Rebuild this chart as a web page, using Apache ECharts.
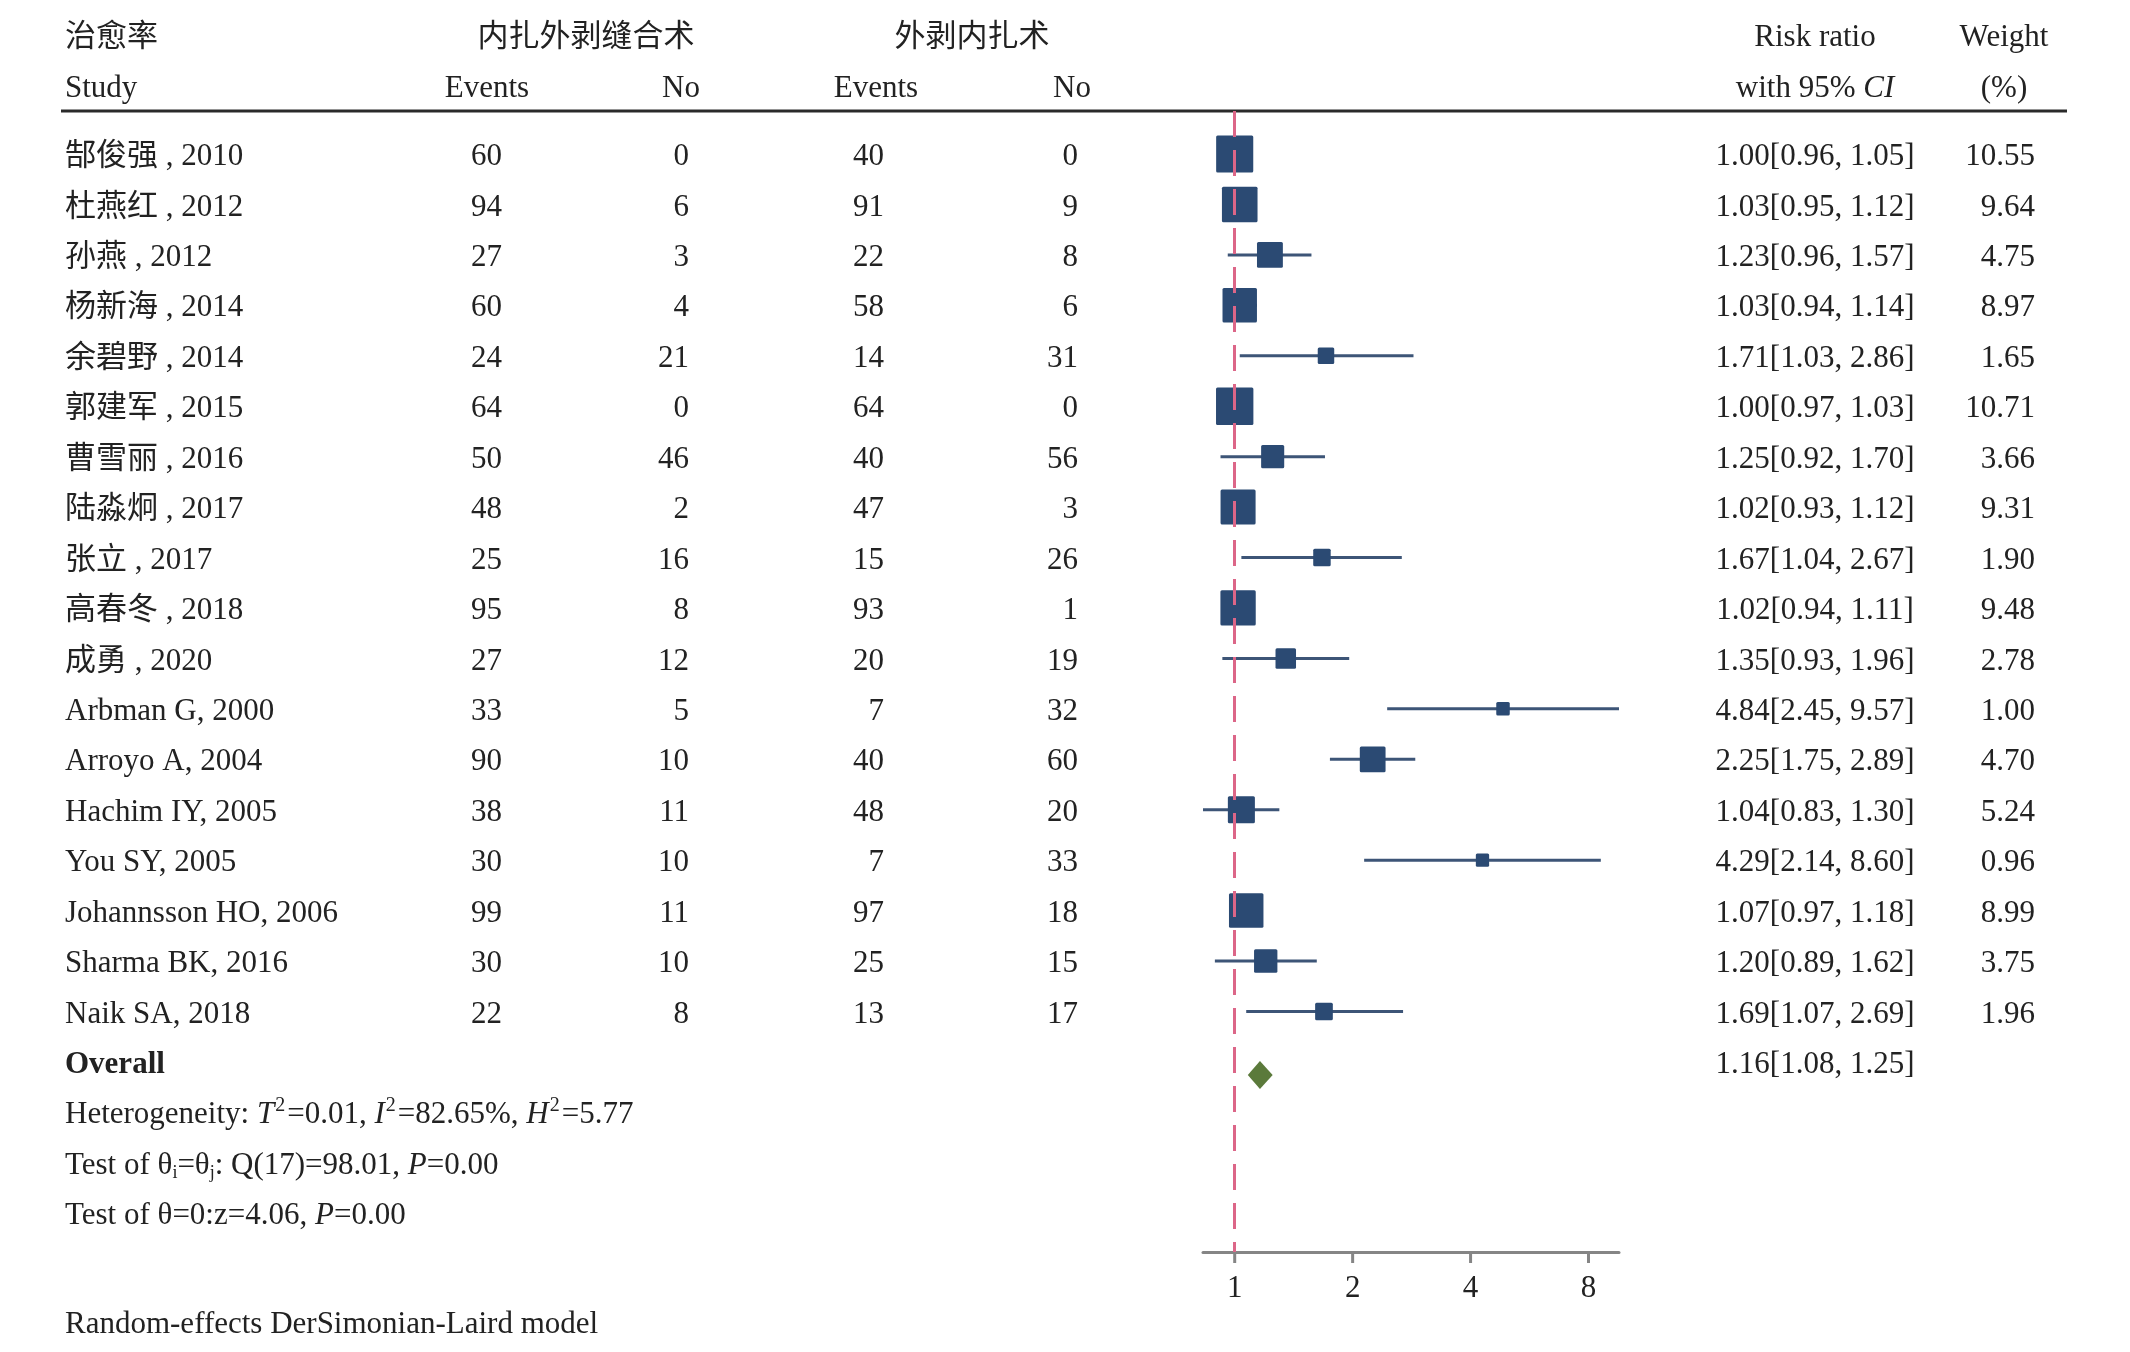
<!DOCTYPE html>
<html>
<head>
<meta charset="utf-8">
<script src="https://cdn.jsdelivr.net/npm/echarts@6/dist/echarts.min.js"></script>
<style>
html,body{margin:0;padding:0;background:#ffffff;}
#c{width:2130px;height:1352px;}
</style>
</head>
<body>
<div id="c"></div>
<script>
// ---------------- data ----------------
const studies = ['郜俊强 , 2010','杜燕红 , 2012','孙燕 , 2012','杨新海 , 2014','余碧野 , 2014','郭建军 , 2015','曹雪丽 , 2016','陆淼炯 , 2017','张立 , 2017','高春冬 , 2018','成勇 , 2020','Arbman G, 2000','Arroyo A, 2004','Hachim IY, 2005','You SY, 2005','Johannsson HO, 2006','Sharma BK, 2016','Naik SA, 2018'];
const events1 = [60,94,27,60,24,64,50,48,25,95,27,33,90,38,30,99,30,22];
const no1     = [0,6,3,4,21,0,46,2,16,8,12,5,10,11,10,11,10,8];
const events2 = [40,91,22,58,14,64,40,47,15,93,20,7,40,48,7,97,25,13];
const no2     = [0,9,8,6,31,0,56,3,26,1,19,32,60,20,33,18,15,17];
const riskRatio = [1.00,1.03,1.23,1.03,1.71,1.00,1.25,1.02,1.67,1.02,1.35,4.84,2.25,1.04,4.29,1.07,1.20,1.69];
const ciLow     = [0.96,0.95,0.96,0.94,1.03,0.97,0.92,0.93,1.04,0.94,0.93,2.45,1.75,0.83,2.14,0.97,0.89,1.07];
const ciHigh    = [1.05,1.12,1.57,1.14,2.86,1.03,1.70,1.12,2.67,1.11,1.96,9.57,2.89,1.30,8.60,1.18,1.62,2.69];
const weights   = [10.55,9.64,4.75,8.97,1.65,10.71,3.66,9.31,1.90,9.48,2.78,1.00,4.70,5.24,0.96,8.99,3.75,1.96];
const overallRR = 1.16, overallLow = 1.08, overallHigh = 1.25;
const xTicks = [1, 2, 4, 8];
const xMin = 0.83, xMax = 9.57;

// ---------------- layout ----------------
const FONT = "'Liberation Serif','Times New Roman','Noto Sans CJK SC',serif";
const FS = 31;
const INK = '#222222';
const TOP = 111, AXIS_Y = 1252;
const PLOT_LEFT = 1203, PLOT_W = 416;
const ROW0_TEXT = 157, ROW0_MARK = 154, STEP = 50.44;
const COL = {name:65, ev1:502, no1:689, ev2:884, no2:1078, ci:1815, w:2035};
const fmt = v => v.toFixed(2);

const chart = echarts.init(document.getElementById('c'), null, {renderer:'canvas'});

function txt(x, y, text, align, extra) {
  return {
    type:'text', x:x, y:y,
    style: Object.assign({text:text, fontSize:FS, fontFamily:FONT, fill:INK, align:align||'left', verticalAlign:'middle'}, extra||{})
  };
}

const rich = {
  n:{fontSize:FS, fontFamily:FONT, fill:INK, lineHeight:36},
  i:{fontSize:FS, fontFamily:FONT, fill:INK, fontStyle:'italic', lineHeight:36},
  sup:{fontSize:20, fontFamily:FONT, fill:INK, lineHeight:36, padding:[0,2,18,1]},
  sub:{fontSize:18, fontFamily:FONT, fill:INK, lineHeight:36, padding:[14,0,0,0]}
};
function richTxt(x, y, text, align) {
  return {type:'text', x:x, y:y, style:{text:text, rich:rich, fontSize:FS, fontFamily:FONT, fill:INK, align:align||'left', verticalAlign:'middle'}};
}

const tableData = studies.map((s, i) => [0, i]);
tableData.push([0, studies.length]);

const forestData = riskRatio.map((v, i) => [v, i, ciLow[i], ciHigh[i], weights[i]]);

const option = {
  backgroundColor:'#ffffff',
  animation:false,
  grid:[
    {left:PLOT_LEFT, width:PLOT_W, top:TOP, height:AXIS_Y-TOP, containLabel:false},
    {left:0, width:2130, top:TOP, height:AXIS_Y-TOP, containLabel:false}
  ],
  xAxis:[
    {type:'log', logBase:2, gridIndex:0, min:xMin, max:xMax,
     axisLine:{show:true, onZero:false, lineStyle:{color:'#858585', width:3}},
     axisTick:{show:false}, axisLabel:{show:false}, splitLine:{show:false}},
    {type:'value', gridIndex:1, min:0, max:2130, show:false}
  ],
  yAxis:[
    {type:'value', gridIndex:0, min:-(ROW0_MARK-TOP)/STEP, max:(AXIS_Y-ROW0_MARK)/STEP, inverse:true, show:false},
    {type:'value', gridIndex:1, min:-(ROW0_TEXT-TOP)/STEP, max:(AXIS_Y-ROW0_TEXT)/STEP, inverse:true, show:false}
  ],
  series:[
    {
      type:'line', xAxisIndex:0, yAxisIndex:0, data:[], z:1,
      markLine:{silent:true, symbol:'none', label:{show:false},
        lineStyle:{color:'#dc6688', width:3, type:[26,13]},
        data:[{xAxis:1}]}
    },
    {
      type:'custom', xAxisIndex:0, yAxisIndex:0, z:3,
      data: forestData,
      encode:{x:0, y:1},
      renderItem:function(params, api){
        const c = api.coord([api.value(0), api.value(1)]);
        const l = api.coord([api.value(2), api.value(1)]);
        const h = api.coord([api.value(3), api.value(1)]);
        const side = 3 + 10.5*Math.sqrt(api.value(4));
        return {type:'group', children:[
          {type:'line', shape:{x1:l[0], y1:l[1], x2:h[0], y2:h[1]}, style:{stroke:'#3d5577', lineWidth:3}},
          {type:'rect', shape:{x:c[0]-side/2, y:c[1]-side/2, width:side, height:side, r:1.5}, style:{fill:'#2b4a73'}}
        ]};
      }
    },
    {
      type:'custom', xAxisIndex:0, yAxisIndex:0, z:3,
      data:[[overallRR, studies.length, overallLow, overallHigh]],
      encode:{x:0, y:1},
      renderItem:function(params, api){
        const yv = api.value(1);
        const c = api.coord([api.value(0), yv]);
        const l = api.coord([api.value(2), yv]);
        const h = api.coord([api.value(3), yv]);
        const cy = c[1] + 13, hh = 14;
        return {type:'polygon', shape:{points:[[l[0], cy], [c[0], cy-hh], [h[0], cy], [c[0], cy+hh]]}, style:{fill:'#5b7a3b'}};
      }
    },
    {
      type:'custom', xAxisIndex:0, yAxisIndex:0, z:3,
      data: xTicks.map(v => [v, 0]),
      encode:{x:0, y:1},
      renderItem:function(params, api){
        const p = api.coord([api.value(0), 0]);
        const bottom = params.coordSys.y + params.coordSys.height;
        return {type:'group', children:[
          {type:'line', shape:{x1:p[0], y1:bottom, x2:p[0], y2:bottom+11}, style:{stroke:'#858585', lineWidth:3}},
          {type:'text', x:p[0], y:bottom+37, style:{text:String(api.value(0)), fontSize:FS, fontFamily:FONT, fill:INK, align:'center', verticalAlign:'middle'}}
        ]};
      }
    },
    {
      type:'custom', xAxisIndex:1, yAxisIndex:1, z:4,
      data: tableData,
      encode:{x:0, y:1},
      renderItem:function(params, api){
        const i = params.dataIndex;
        const y = api.coord([0, api.value(1)])[1];
        if (i === studies.length) {
          return {type:'group', children:[
            txt(COL.name, y, 'Overall', 'left', {fontWeight:'bold'}),
            txt(COL.ci, y, fmt(overallRR)+'['+fmt(overallLow)+', '+fmt(overallHigh)+']', 'center')
          ]};
        }
        return {type:'group', children:[
          txt(COL.name, y, studies[i], 'left'),
          txt(COL.ev1, y, String(events1[i]), 'right'),
          txt(COL.no1, y, String(no1[i]), 'right'),
          txt(COL.ev2, y, String(events2[i]), 'right'),
          txt(COL.no2, y, String(no2[i]), 'right'),
          txt(COL.ci, y, fmt(riskRatio[i])+'['+fmt(ciLow[i])+', '+fmt(ciHigh[i])+']', 'center'),
          txt(COL.w, y, fmt(weights[i]), 'right')
        ]};
      }
    }
  ],
  graphic:{elements:[
    txt(65, 38, '治愈率', 'left'),
    txt(586, 38, '内扎外剥缝合术', 'center'),
    txt(972, 38, '外剥内扎术', 'center'),
    txt(1815, 38, 'Risk ratio', 'center'),
    txt(2004, 38, 'Weight', 'center'),
    txt(65, 89, 'Study', 'left'),
    txt(487, 89, 'Events', 'center'),
    txt(681, 89, 'No', 'center'),
    txt(876, 89, 'Events', 'center'),
    txt(1072, 89, 'No', 'center'),
    richTxt(1815, 89, '{n|with 95% }{i|CI}', 'center'),
    txt(2004, 89, '(%)', 'center'),
    {type:'line', shape:{x1:61, y1:TOP, x2:2067, y2:TOP}, style:{stroke:'#2a2a2a', lineWidth:3}},
    richTxt(65, 1115, '{n|Heterogeneity: }{i|T}{sup|2}{n|=0.01, }{i|I}{sup|2}{n|=82.65%, }{i|H}{sup|2}{n|=5.77}', 'left'),
    richTxt(65, 1166, '{n|Test of θ}{sub|i}{n|=θ}{sub|j}{n|: Q(17)=98.01, }{i|P}{n|=0.00}', 'left'),
    richTxt(65, 1216, '{n|Test of θ=0:z=4.06, }{i|P}{n|=0.00}', 'left'),
    txt(65, 1325, 'Random-effects DerSimonian-Laird model', 'left')
  ]}
};
chart.setOption(option);
</script>
</body>
</html>
